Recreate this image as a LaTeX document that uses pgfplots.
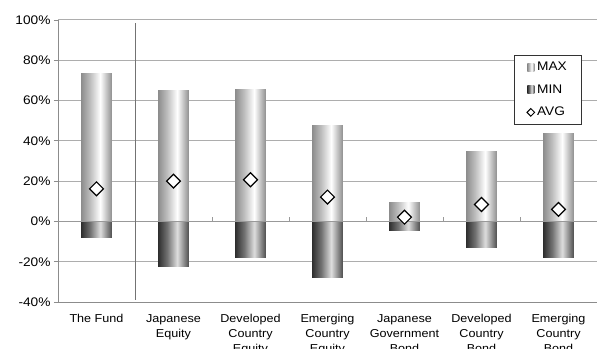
\documentclass[border=0pt]{standalone}
\usepackage{pgfplots}
\pgfplotsset{compat=1.18}
\usepackage{fontspec}
\setmainfont{Liberation Sans}[FakeStretch=1.1]
\pgfdeclarehorizontalshading{maxshade}{100bp}{rgb(0bp)=(0.55,0.55,0.55); rgb(25bp)=(0.55,0.55,0.55); rgb(40bp)=(0.75,0.75,0.75); rgb(56bp)=(1,1,1); rgb(75bp)=(0.56,0.56,0.56); rgb(100bp)=(0.56,0.56,0.56)}
\pgfdeclarehorizontalshading{minshade}{100bp}{rgb(0bp)=(0.18,0.18,0.18); rgb(25bp)=(0.18,0.18,0.18); rgb(40bp)=(0.45,0.45,0.45); rgb(56bp)=(0.87,0.87,0.87); rgb(75bp)=(0.3,0.3,0.3); rgb(100bp)=(0.3,0.3,0.3)}
\pgfplotsset{
  maxbar/.style={ybar, bar width=0.4, bar shift=0pt, draw=none, shading=maxshade, forget plot},
  minbar/.style={ybar, bar width=0.4, bar shift=0pt, draw=none, shading=minshade, forget plot},
}
\begin{document}
\begin{tikzpicture}
\begin{axis}[
  at={(58bp,47bp)}, anchor=south west,
  scale only axis, width=539bp, height=282bp,
  xmin=-0.5, xmax=6.5, ymin=-40, ymax=100,
  axis lines*=left,
  axis line style={-, draw=black!45, line width=0.9bp},
  ytick={-40,-20,...,100},
  /pgf/number format/assume math mode=true,
  yticklabel={\pgfmathprintnumber{\tick}\%},
  yticklabel style={font=\fontsize{12.5}{14}\selectfont},
  ytick style={draw=black!45, line width=0.9bp},
  tick align=outside,
  major tick length=4bp,
  xtick={0,...,6},
  x tick style={draw=none},
  xticklabels={The Fund, {Japanese\\Equity}, {Developed\\Country\\Equity}, {Emerging\\Country\\Equity}, {Japanese\\Government\\Bond}, {Developed\\Country\\Bond}, {Emerging\\Country\\Bond}},
  xticklabel style={align=center, font=\fontsize{11.5}{15}\selectfont, anchor=north, yshift=-5bp},
  ymajorgrids,
  major grid style={draw=black!32, line width=1bp},
  legend style={at={(1,1)}, anchor=north east, xshift=-16bp, yshift=-35bp,
    draw=black!80, fill=white, font=\fontsize{12.5}{14}\selectfont,
    inner xsep=12bp, inner ysep=5bp, row sep=8.5bp},
  legend cell align=left,
]
% MAX series (one bar per plot so each bar gets its own shading)
\addplot[maxbar] coordinates {(0,73.6)};
\addplot[maxbar] coordinates {(1,65.0)};
\addplot[maxbar] coordinates {(2,65.5)};
\addplot[maxbar] coordinates {(3,47.6)};
\addplot[maxbar] coordinates {(4,9.4)};
\addplot[maxbar] coordinates {(5,34.7)};
\addplot[maxbar] coordinates {(6,43.7)};
% MIN series
\addplot[minbar] coordinates {(0,-7.8)};
\addplot[minbar] coordinates {(1,-22.2)};
\addplot[minbar] coordinates {(2,-17.7)};
\addplot[minbar] coordinates {(3,-27.6)};
\addplot[minbar] coordinates {(4,-4.3)};
\addplot[minbar] coordinates {(5,-12.7)};
\addplot[minbar] coordinates {(6,-17.7)};
\addlegendimage{draw=none, legend image code/.code={\path[draw=none, shading=maxshade] (0bp,-4bp) rectangle (7bp,4bp);}}
\addlegendentry{MAX}
\addlegendimage{draw=none, legend image code/.code={\path[draw=none, shading=minshade] (0bp,-4bp) rectangle (7bp,4bp);}}
\addlegendentry{MIN}
\addplot[only marks, mark=square*, mark size=4.9bp,
  mark options={rotate=45, fill=white, draw=black, line width=1.2bp},
  legend image code/.code={\draw[black, fill=white, line width=1bp] (3.5bp,3.8bp) -- (7.3bp,0bp) -- (3.5bp,-3.8bp) -- (-0.3bp,0bp) -- cycle;}]
  coordinates {(0,16.2) (1,20.0) (2,20.7) (3,12.1) (4,2.1) (5,8.4) (6,6.0)};
\addlegendentry{AVG}
\draw[black!40, line width=1bp] (axis cs:-0.5,0) -- (axis cs:6.5,0);
\pgfplotsinvokeforeach{0.5,1.5,2.5,3.5,4.5,5.5}{\draw[black!40, line width=0.8bp] (axis cs:#1,0) -- ++(0bp,4bp);}
\draw[black!55, line width=0.9bp] (axis cs:0.5,98.5) -- (axis cs:0.5,-39);
\end{axis}
\pgfresetboundingbox
\path[use as bounding box] (0bp,0bp) rectangle (597bp,349bp);
\end{tikzpicture}
\end{document}
